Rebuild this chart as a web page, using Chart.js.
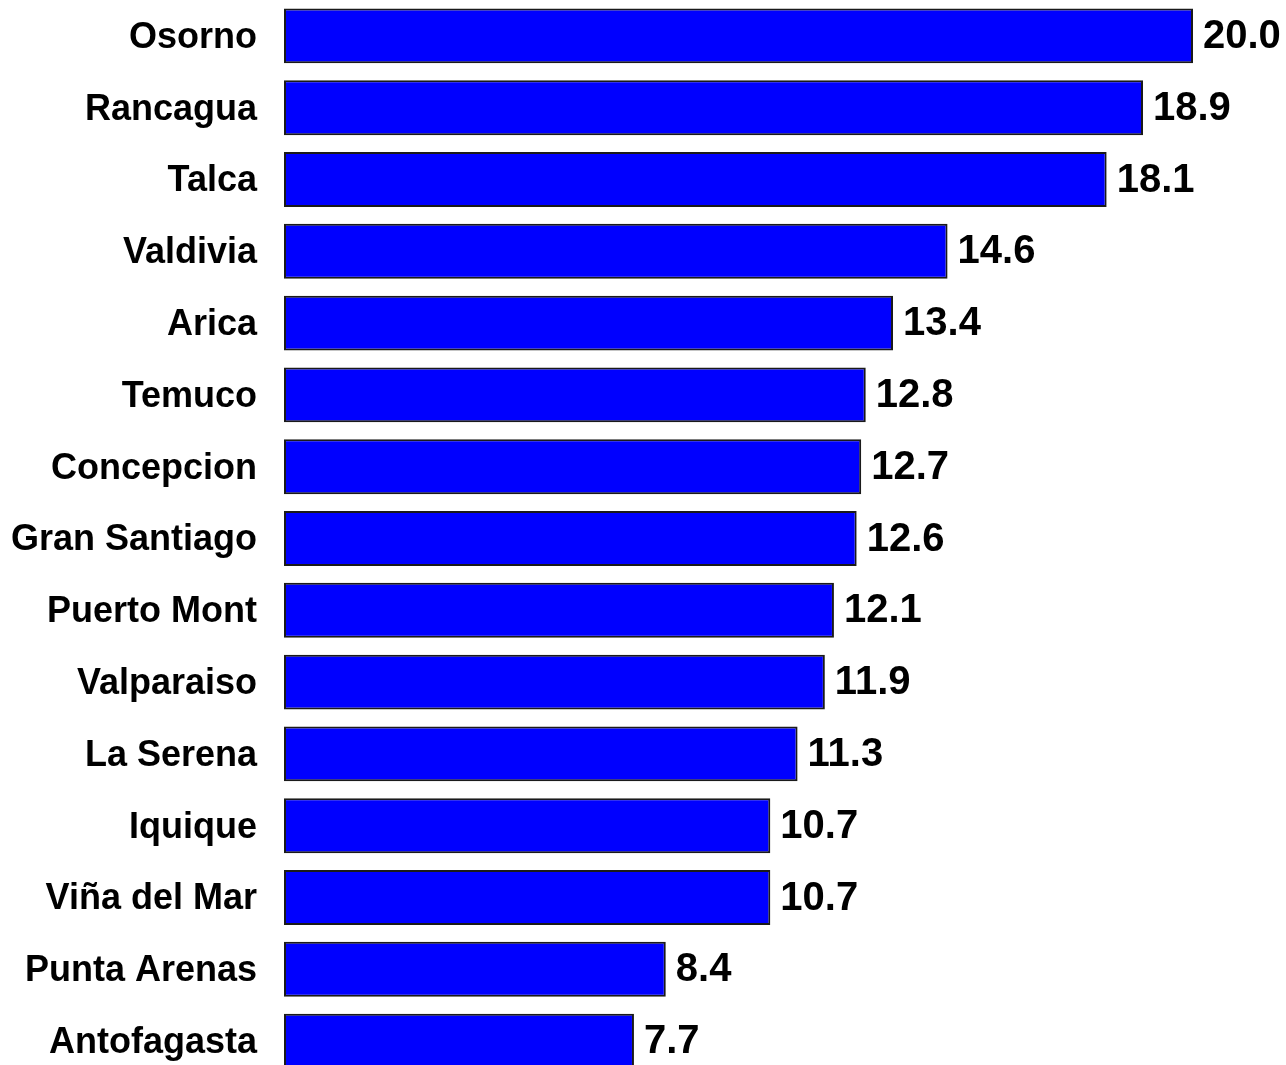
<!DOCTYPE html>
<html>
<head>
<meta charset="utf-8">
<script src="https://cdn.jsdelivr.net/npm/chart.js@4"></script>
<style>
html,body{margin:0;padding:0;background:#fff;overflow:hidden;}
canvas{display:block;}
</style>
</head>
<body>
<canvas id="c" width="1286" height="1077"></canvas>
<script>
const categories = ["Osorno","Rancagua","Talca","Valdivia","Arica","Temuco","Concepcion","Gran Santiago","Puerto Mont","Valparaiso","La Serena","Iquique","Viña del Mar","Punta Arenas","Antofagasta"];
const values = [20.0,18.9,18.1,14.6,13.4,12.8,12.7,12.6,12.1,11.9,11.3,10.7,10.7,8.4,7.7];

const valueLabels = {
  id: 'valueLabels',
  afterDatasetsDraw(chart) {
    const ctx = chart.ctx;
    const meta = chart.getDatasetMeta(0);
    ctx.save();
    ctx.font = 'bold 40px "Liberation Sans", Arial, sans-serif';
    ctx.fillStyle = '#000';
    ctx.textAlign = 'left';
    ctx.textBaseline = 'middle';
    meta.data.forEach((bar, i) => {
      ctx.fillText(values[i].toFixed(1), bar.x + 10, bar.y + 1);
    });
    ctx.restore();
  }
};

new Chart(document.getElementById('c'), {
  type: 'bar',
  data: {
    labels: categories,
    datasets: [{
      data: values,
      backgroundColor: '#0000FF',
      borderColor: '#1a1a1a',
      borderWidth: 2,
      borderSkipped: false,
      barPercentage: 0.765,
      categoryPercentage: 1.0
    }]
  },
  options: {
    indexAxis: 'y',
    responsive: false,
    animation: false,
    layout: { padding: { top: 0, right: 93, bottom: 0, left: 0 } },
    plugins: { legend: { display: false }, tooltip: { enabled: false } },
    scales: {
      x: {
        min: 0, max: 20,
        display: false
      },
      y: {
        grid: { display: false, drawTicks: false },
        border: { display: false },
        ticks: {
          padding: 27,
          labelOffset: 2,
          color: '#000',
          font: { family: '"Liberation Sans", Arial, sans-serif', size: 36, weight: 'bold' }
        },
        afterFit(scale) {
          scale.width = 284;
          scale.paddingTop = 0;
          scale.paddingBottom = 0;
        }
      }
    }
  },
  plugins: [valueLabels]
});
</script>
</body>
</html>
